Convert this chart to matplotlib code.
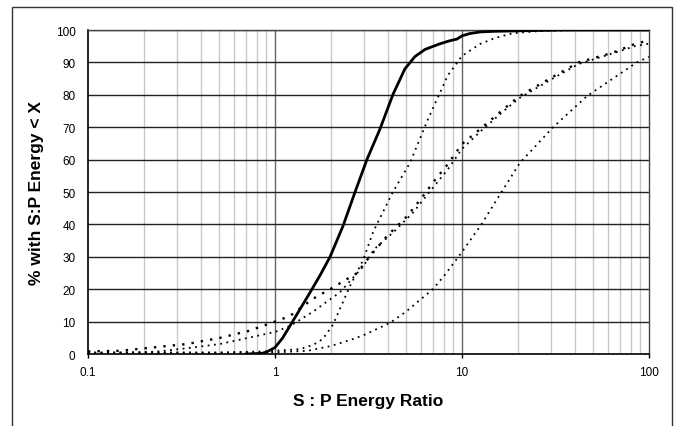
import matplotlib
matplotlib.use("Agg")
import matplotlib.pyplot as plt
from matplotlib.patches import Rectangle
from matplotlib.ticker import FixedLocator, NullFormatter

plt.rcParams['font.family'] = ['Liberation Sans', 'DejaVu Sans']

# solid curve
xa = [0.7, 0.85, 0.9, 1.0, 1.1, 1.2, 1.35, 1.54, 1.75, 1.97, 2.31, 2.68, 3.1, 3.64,
      4.28, 4.95, 5.6, 6.34, 7.5, 8.5, 9.4, 10.0, 11.0, 12.5, 15.0, 18.7, 25.0, 34.0, 100.0]
ya = [0.0, 0.2, 0.6, 2.0, 5.0, 8.6, 13.5, 19.0, 24.5, 30.0, 39.5, 50.0, 60.0, 69.4,
      80.2, 88.0, 91.8, 94.0, 95.6, 96.6, 97.2, 98.2, 98.9, 99.4, 99.6, 99.7, 99.85, 100.0, 100.0]

# steep dotted curve
xb = [0.1, 0.5, 0.9, 1.0, 1.36, 1.6, 1.8, 2.04, 2.52, 2.96, 3.35, 4.27, 5.27, 6.58,
      8.4, 10.0, 12.5, 15.0, 18.7, 25.0, 40.0, 100.0]
yb = [0.5, 0.5, 0.8, 1.0, 1.5, 2.8, 4.6, 9.0, 21.0, 29.0, 37.7, 50.0, 59.0, 72.5,
      86.0, 92.0, 95.7, 97.5, 99.0, 99.6, 100.0, 100.0]

# upper left-starting curve
xc = [0.1, 0.15, 0.23, 0.34, 0.51, 0.72, 1.0, 1.2, 1.59, 1.97, 2.75, 3.2, 3.97, 5.1,
      6.2, 7.1, 8.4, 10.0, 12.5, 16.7, 20.3, 30.5, 42.0, 64.0, 84.0, 100.0]
yc = [0.8, 1.0, 2.1, 3.1, 5.0, 7.1, 10.0, 11.7, 17.0, 20.0, 25.0, 30.0, 36.4, 42.6,
      48.8, 53.4, 58.6, 64.8, 69.4, 75.6, 79.6, 85.5, 90.0, 93.0, 95.7, 96.8]

# lower left-starting curve
xd = [0.1, 0.15, 0.23, 0.34, 0.51, 0.72, 1.0, 1.2, 1.59, 2.22, 2.96, 3.4, 4.3, 5.5,
      6.7, 8.4, 10.0, 12.5, 16.7, 20.3, 30.5, 42.0, 64.0, 84.0, 100.0]
yd = [0.3, 0.4, 0.7, 1.8, 3.1, 5.0, 6.8, 8.6, 13.0, 19.0, 27.0, 32.4, 37.6, 43.8,
      50.0, 57.0, 63.3, 68.6, 75.0, 79.0, 85.0, 89.5, 92.8, 95.0, 95.8]

# right-most curve
xe = [0.1, 0.5, 1.0, 1.5, 2.0, 2.61, 3.0, 4.12, 5.0, 6.92, 8.0, 10.0, 12.7, 15.4,
      20.4, 30.7, 46.6, 70.0, 86.0, 100.0]
ye = [0.3, 0.3, 0.5, 1.0, 2.5, 4.6, 5.9, 9.6, 13.0, 19.8, 24.0, 31.5, 40.0, 47.8,
      59.0, 70.0, 79.6, 86.5, 90.0, 91.7]

xticks = [0.1, 1, 10, 100]
xticklabels = ['0.1', '1', '10', '100']
yticks = list(range(0, 101, 10))

fig = plt.figure(figsize=(6.83, 4.27), dpi=100)
fig.patches.append(Rectangle((12 / 683, -0.1), 660 / 683, 1 - 8 / 427 + 0.1,
                             transform=fig.transFigure, fill=False,
                             edgecolor='#333333', linewidth=1))
ax = fig.add_axes([88 / 683, 1 - 355 / 427, 561 / 683, 324 / 427])
ax.set_xscale('log')
ax.set_xlim(0.1, 100)
ax.set_ylim(0, 100)

minors = [m * 10.0 ** e for e in (-1, 0, 1) for m in range(2, 10)]
for v in minors:
    ax.axvline(v, color='#c8c8c8', linewidth=1, zorder=1)
for v in (1, 10):
    ax.axvline(v, color='#666666', linewidth=1, zorder=1)
for v in yticks[1:]:
    ax.axhline(v, color='#222222', linewidth=1, zorder=1)

ax.plot(xe, ye, color='black', linewidth=1.3, linestyle=(0, (1, 2.5)), zorder=3)
ax.plot(xd, yd, color='black', linewidth=1.3, linestyle=(0, (1, 2.5)), zorder=3)
ax.plot(xc, yc, color='black', linewidth=1.7, linestyle=(0, (1, 3)), zorder=3)
ax.plot(xb, yb, color='black', linewidth=1.3, linestyle=(0, (1, 2.5)), zorder=3)
ax.plot(xa, ya, color='black', linewidth=2, zorder=4)

ax.xaxis.set_major_locator(FixedLocator(xticks))
ax.set_xticklabels(xticklabels)
ax.xaxis.set_minor_locator(FixedLocator(minors))
ax.xaxis.set_minor_formatter(NullFormatter())
ax.tick_params(axis='x', which='major', direction='out', length=3, width=1,
               labelsize=8.5, pad=6)
ax.tick_params(axis='x', which='minor', length=0)
ax.set_yticks(yticks)
ax.tick_params(axis='y', which='major', length=0, labelsize=8.5, pad=9)

for side in ('left', 'bottom'):
    ax.spines[side].set_color('black')
    ax.spines[side].set_linewidth(1.2)
for side in ('top', 'right'):
    ax.spines[side].set_color('#444444')
    ax.spines[side].set_linewidth(1)

ax.set_xlabel('S : P Energy Ratio', fontsize=12.5, fontweight='bold', va='center')
ax.set_ylabel('% with S:P Energy < X', fontsize=12.5, fontweight='bold', va='center')
ax.xaxis.set_label_coords(0.5, (355 - 402) / 324)
ax.yaxis.set_label_coords((37 - 88) / 561, 0.5)

fig.savefig('out.png', dpi=100)
